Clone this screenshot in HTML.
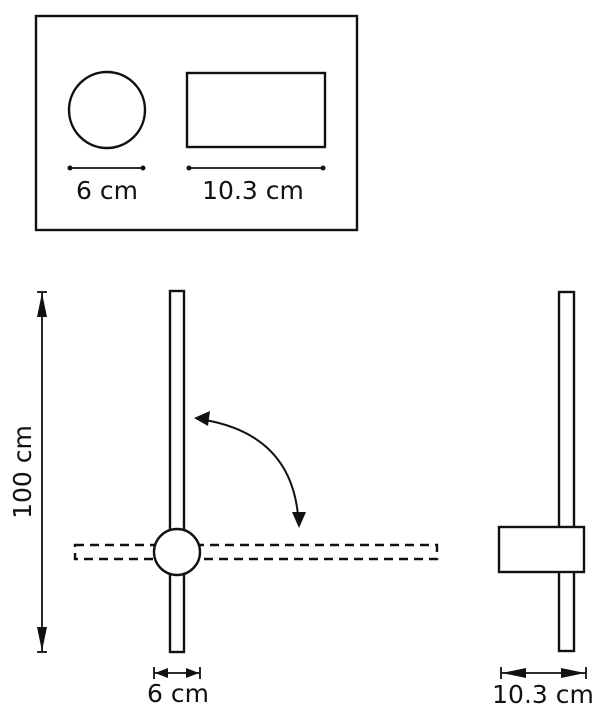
<!DOCTYPE html>
<html><head><style>body{margin:0;background:#fff}svg{display:block}text{font-family:"DejaVu Sans","Liberation Sans",sans-serif;fill:#111}</style></head>
<body>
<svg width="604" height="720" viewBox="0 0 604 720" xmlns="http://www.w3.org/2000/svg">
<g fill="none" stroke="#111" stroke-width="2.4">
<rect x="36" y="16" width="321" height="214"/>
<circle cx="107" cy="110" r="38"/>
<rect x="187" y="73" width="138" height="74"/>
<line x1="70" y1="168" x2="143" y2="168" stroke-width="1.8"/>
<line x1="189" y1="168" x2="323" y2="168" stroke-width="1.8"/>
<rect x="75" y="545" width="362" height="14" stroke-dasharray="9,6"/>
<rect x="170" y="291" width="14" height="361" fill="#fff"/>
<circle cx="177" cy="552" r="23" fill="#fff"/>
<rect x="559" y="292" width="15" height="359" fill="#fff"/>
<rect x="499" y="527" width="85" height="45" fill="#fff"/>
<line x1="42" y1="292" x2="42" y2="652" stroke-width="1.8"/>
<line x1="37" y1="292" x2="47" y2="292" stroke-width="1.8"/>
<line x1="37" y1="652" x2="47" y2="652" stroke-width="1.8"/>
<line x1="154" y1="673" x2="200" y2="673" stroke-width="1.8"/>
<line x1="154" y1="667" x2="154" y2="679" stroke-width="1.8"/>
<line x1="200" y1="667" x2="200" y2="679" stroke-width="1.8"/>
<line x1="501" y1="673" x2="586" y2="673" stroke-width="1.8"/>
<line x1="501" y1="667" x2="501" y2="679" stroke-width="1.8"/>
<line x1="586" y1="667" x2="586" y2="679" stroke-width="1.8"/>
<path d="M205 420 Q290 435 298 515" stroke-width="2"/>
</g>
<g fill="#111">
<circle cx="70" cy="168" r="2.5"/><circle cx="143" cy="168" r="2.5"/>
<circle cx="189" cy="168" r="2.5"/><circle cx="323" cy="168" r="2.5"/>
<polygon points="42,293 37,317 47,317"/>
<polygon points="42,651 37,627 47,627"/>
<polygon points="155,673 168,668 168,678"/>
<polygon points="199,673 186,668 186,678"/>
<polygon points="502,673 526,668 526,678"/>
<polygon points="585,673 561,668 561,678"/>
<polygon points="194,418 210,411 208,426"/>
<polygon points="299,528 292,512 306,512"/>
</g>
<g font-size="25" text-anchor="middle">
<text x="107" y="199">6 cm</text>
<text x="253" y="199">10.3 cm</text>
<text x="178" y="702">6 cm</text>
<text x="543" y="703">10.3 cm</text>
<text transform="translate(31,472) rotate(-90)">100 cm</text>
</g>
</svg>
</body></html>
